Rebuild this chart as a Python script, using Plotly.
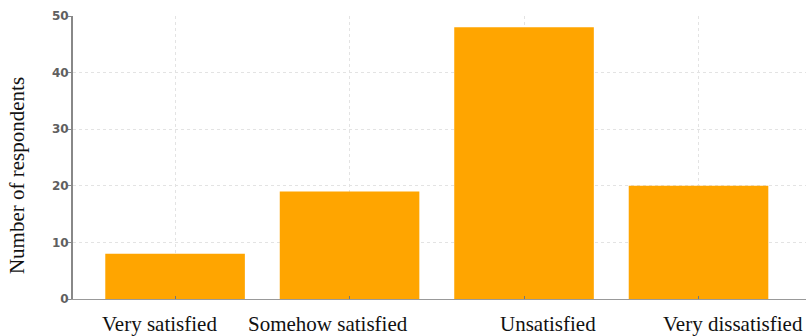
import plotly.graph_objects as go

# Survey responses: satisfaction level and respondent counts
categories = ["Very satisfied", "Somehow satisfied", "Unsatisfied", "Very dissatisfied"]
respondents = [8, 19, 48, 20]
y_ticks = [0, 10, 20, 30, 40, 50]

# horizontal nudge of each category caption relative to its bar (in category units)
label_shift = [-0.09, -0.125, 0.137, 0.198]

x_pos = list(range(len(categories)))
serif = "Liberation Serif, Times New Roman, serif"

fig = go.Figure(
    go.Bar(
        x=x_pos,
        y=respondents,
        width=0.8,
        marker=dict(color="#FFA500", line=dict(width=0)),
    )
)

for i, name in enumerate(categories):
    fig.add_annotation(
        x=x_pos[i] + label_shift[i], y=0, xref="x", yref="y",
        yshift=-25, text=name, showarrow=False,
        font=dict(family=serif, size=21, color="#111"),
    )

# vertical axis caption
fig.add_annotation(
    x=-0.0764, y=0.438, xref="paper", yref="paper",
    xanchor="center", yanchor="middle",
    text="Number of respondents", textangle=-90, showarrow=False,
    font=dict(family=serif, size=21, color="#111"),
)

fig.update_layout(
    width=806, height=336,
    margin=dict(l=73, r=0, t=16, b=37),
    plot_bgcolor="white", paper_bgcolor="white",
    showlegend=False,
    xaxis=dict(
        range=[-0.585, 3.616],
        tickvals=x_pos, showticklabels=False,
        showgrid=True, gridcolor="#e3e3e3", griddash="dot", gridwidth=1,
        showline=True, linecolor="#999", linewidth=1,
        ticks="inside", ticklen=3, tickcolor="#777",
        zeroline=False,
    ),
    yaxis=dict(
        range=[0, 50], tickvals=y_ticks,
        showgrid=True, gridcolor="#e3e3e3", griddash="dot", gridwidth=1,
        showline=True, linecolor="#888", linewidth=2,
        ticks="outside", ticklen=3, tickcolor="#888",
        ticklabelstandoff=-3,
        tickfont=dict(family="DejaVu Sans", size=12, color="#606060", weight="bold"),
        zeroline=False,
    ),
)

fig.write_html("out.html")
